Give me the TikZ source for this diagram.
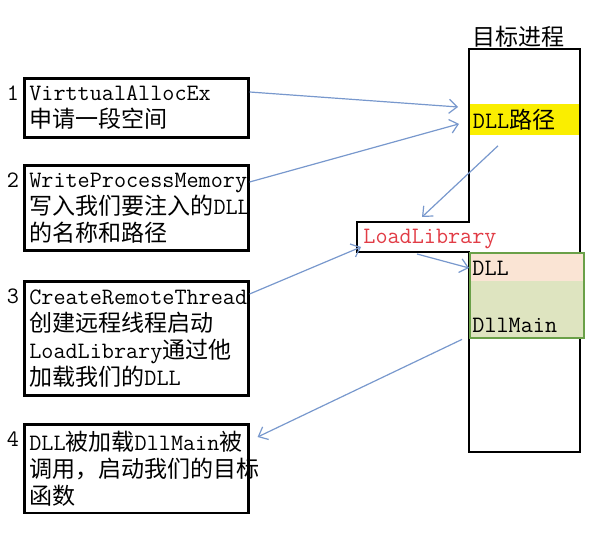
\documentclass[tikz,border=0pt]{standalone}
\usepackage{fontspec}
\newfontfamily\cjk{Noto Sans CJK SC}[Scale=0.98]
\newcommand\zh[1]{{\cjk #1}}
\usetikzlibrary{arrows.meta}
\definecolor{linkblue}{RGB}{120,152,205}
\definecolor{dllyellow}{RGB}{250,238,0}
\definecolor{dllgreen}{RGB}{106,160,72}
\definecolor{dllpeach}{RGB}{250,228,212}
\definecolor{dllolive}{RGB}{222,228,192}
\definecolor{loadred}{RGB}{225,60,70}
\tikzset{
  stepbox/.style={draw, rectangle, line width=1.3pt, anchor=north west,
    text width=107pt, minimum width=112pt, inner xsep=2.5pt, align=left},
  link/.style={draw=linkblue, line width=0.6pt, -{Straight Barb[length=4pt,width=7pt]}}
}

\begin{document}
\begin{tikzpicture}[x=0.5pt, y=-0.5pt, font=\ttfamily\fontsize{11.75}{13.5}\selectfont]
\useasboundingbox (0,0) rectangle (604,549);

\node[stepbox, minimum height=29.5pt] (1) at (23,77) {VirttualAllocEx\\\zh{申请一段空间}};
\node[stepbox, minimum height=42.5pt] (2) at (23,164) {WriteProcessMemory\\\zh{写入我们要注入的}DLL\\\zh{的名称和路径}};
\node[stepbox, minimum height=57pt] (3) at (23,280) {CreateRemoteThread\\\zh{创建远程线程启动}\\LoadLibrary\zh{通过他}\\\zh{加载我们的}DLL};
\node[stepbox, minimum height=42.5pt] (4) at (23,423) {DLL\zh{被加载}DllMain\zh{被}\\\zh{调用，启动我们的目标}\\\zh{函数}};

\node (n1) at (13,93) {1};
\node (n2) at (13,180) {2};
\node (n3) at (13,296) {3};
\node (n4) at (13,439) {4};

% target process
\node[anchor=west, inner sep=0] (title) at (472,37) {\zh{目标进程}};
\node[fill=dllyellow, anchor=north west, minimum width=55.5pt, minimum height=15.5pt,
  text width=52pt, inner xsep=1.75pt, inner ysep=0, align=left] (band) at (469,104) {DLL\zh{路径}};
\draw[line width=1.3pt] (469,49) -- (580,49) -- (580,452) -- (469,452) -- (469,252)
  -- (357,252) -- (357,222) -- (469,222) -- cycle;
\node[draw=dllgreen, line width=1.2pt, fill=dllolive, anchor=north west, inner sep=0,
  minimum width=57pt, minimum height=42.5pt,
  path picture={\fill[dllpeach] (path picture bounding box.north west)
    rectangle ([yshift=-14pt]path picture bounding box.north east);}] (dllbox) at (469,252) {};
\node[anchor=west, inner sep=0] (dll) at (472,268) {DLL};
\node[anchor=west, inner sep=0] (dllmain) at (472,325) {DllMain};
\node[anchor=west, inner sep=1pt, text=loadred] (loadlib) at (361,239) {LoadLibrary};

\path[link] ([yshift=-7.5pt]1.north east) -- ([xshift=-5.5pt,yshift=-1.5pt]band.north west);
\path[link] ([yshift=-9pt]2.north east) -- ([xshift=-5pt,yshift=-2pt]band.west);
\path[link] ([yshift=-7pt]3.north east) -- ([yshift=-4pt]loadlib.west);
\path[link] ([xshift=14.5pt,yshift=-5pt]band.south west) -- ([xshift=30.5pt,yshift=11pt]loadlib.west);
\path[link] ([xshift=28pt,yshift=-7.5pt]loadlib.west) -- ([xshift=-1.5pt]dll.west);
\path[link] ([xshift=-3.5pt]dllbox.south west) -- ([xshift=4pt,yshift=-7pt]4.north east);
\end{tikzpicture}
\end{document}
